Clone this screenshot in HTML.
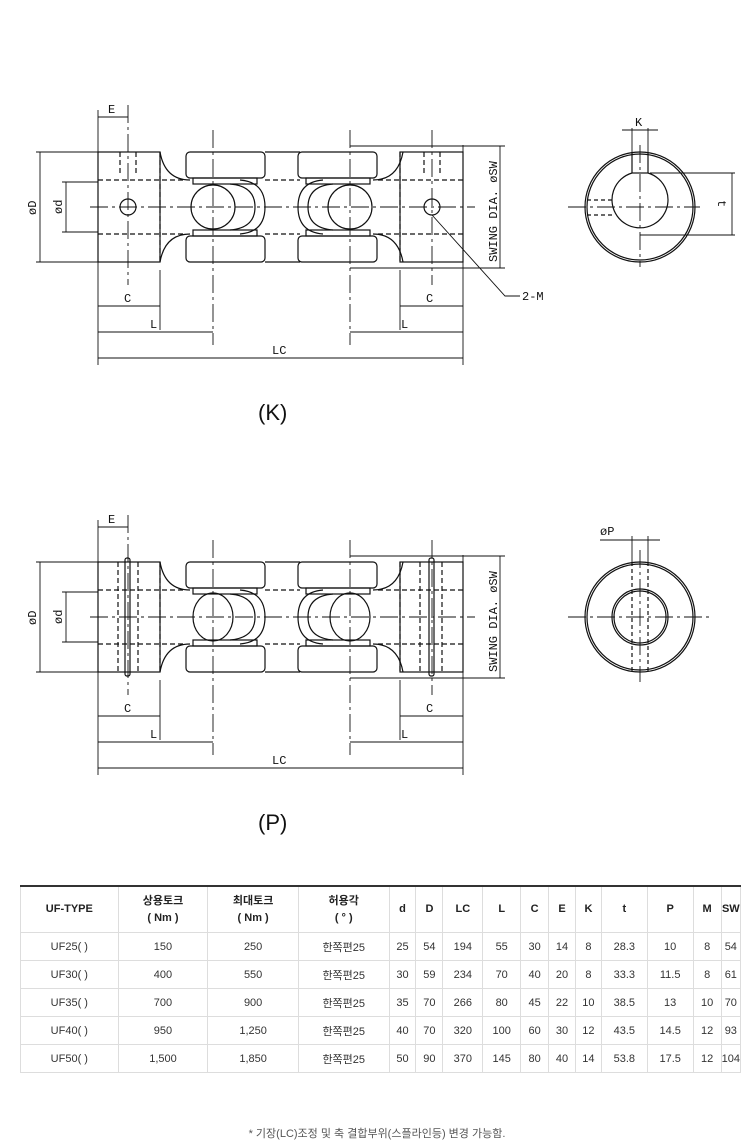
<!DOCTYPE html>
<html><head><meta charset="utf-8"><style>
html,body{margin:0;padding:0;background:#fff;}
body{width:754px;height:1148px;position:relative;overflow:hidden;font-family:"Liberation Sans","Noto Sans CJK KR",sans-serif;}
svg{position:absolute;left:0;top:0;}
table{position:absolute;left:20px;top:885px;width:721px;border-collapse:collapse;font-size:11px;color:#333;border-top:2px solid #333;}
td{border:1px solid #ddd;text-align:center;height:27px;padding:0;}
tr.h td{height:45px;font-weight:bold;color:#222;line-height:17px;}
.foot{position:absolute;left:0;width:754px;top:1125px;text-align:center;font-size:11px;color:#555;}
</style></head><body>
<svg width="754" height="880" viewBox="0 0 754 880" fill="none" stroke="#111" stroke-width="1.2" font-family="Liberation Mono, monospace" font-size="12">
<defs>
<g id="yoke">
  <path d="M160 152 Q165 180 190 180"/>
  <path d="M160 262 Q165 234 190 234"/>
  <rect x="186" y="152" width="79" height="26" rx="4"/>
  <rect x="186" y="236" width="79" height="26" rx="4"/>
  <rect x="193" y="178" width="64" height="6"/>
  <rect x="193" y="230" width="64" height="6"/>
  <path d="M230 184 Q255 186 255 207 Q255 228 230 230"/>
  <path d="M240 180 Q265 182 265 207 Q265 232 240 234"/>
</g>
</defs>

<!-- ============ K drawing ============ -->
<g>
  <rect x="98" y="152" width="62" height="110"/>
  <rect x="400" y="152" width="63" height="110"/>
  <use href="#yoke"/>
  <g transform="translate(563,0) scale(-1,1)"><use href="#yoke"/></g>
  <circle cx="213" cy="207" r="22"/>
  <circle cx="350" cy="207" r="22"/>
  <line x1="265" y1="152" x2="300" y2="152"/>
  <line x1="265" y1="262" x2="300" y2="262"/>
  <g stroke-dasharray="5,3">
    <line x1="98" y1="180" x2="186" y2="180"/><line x1="98" y1="234" x2="186" y2="234"/>
    <line x1="265" y1="180" x2="300" y2="180"/><line x1="265" y1="234" x2="300" y2="234"/>
    <line x1="378" y1="180" x2="463" y2="180"/><line x1="378" y1="234" x2="463" y2="234"/>
    <line x1="160" y1="152" x2="160" y2="262"/><line x1="400" y1="152" x2="400" y2="262"/>
    <line x1="120" y1="152" x2="120" y2="175"/><line x1="136" y1="152" x2="136" y2="175"/>
    <line x1="424" y1="152" x2="424" y2="175"/><line x1="440" y1="152" x2="440" y2="175"/>
  </g>
  <circle cx="128" cy="207" r="8"/><circle cx="432" cy="207" r="8"/>
  <g stroke-width="0.9" stroke-dasharray="18,4,3,4">
    <line x1="90" y1="207" x2="475" y2="207"/>
    <line x1="128" y1="105" x2="128" y2="285"/>
    <line x1="213" y1="130" x2="213" y2="345"/>
    <line x1="350" y1="130" x2="350" y2="345"/>
    <line x1="432" y1="130" x2="432" y2="285"/>
  </g>
  <g stroke-width="0.9">
    <line x1="98" y1="110" x2="98" y2="365"/><line x1="463" y1="145" x2="463" y2="365"/>
    <line x1="160" y1="270" x2="160" y2="330"/><line x1="400" y1="270" x2="400" y2="330"/>
    <line x1="98" y1="117" x2="128" y2="117"/>
    <line x1="36" y1="152" x2="98" y2="152"/><line x1="36" y1="262" x2="98" y2="262"/>
    <line x1="40" y1="152" x2="40" y2="262"/>
    <line x1="62" y1="182" x2="98" y2="182"/><line x1="62" y1="232" x2="98" y2="232"/>
    <line x1="66" y1="182" x2="66" y2="232"/>
    <line x1="98" y1="306" x2="160" y2="306"/><line x1="400" y1="306" x2="463" y2="306"/>
    <line x1="98" y1="332" x2="213" y2="332"/><line x1="350" y1="332" x2="463" y2="332"/>
    <line x1="98" y1="358" x2="463" y2="358"/>
    <line x1="350" y1="146" x2="505" y2="146"/><line x1="350" y1="268" x2="505" y2="268"/>
    <line x1="500" y1="146" x2="500" y2="268"/>
    <path d="M432 215 L505 296 L520 296"/>
  </g>
  <g fill="#111" stroke="none">
    <text x="108" y="113">E</text>
    <text x="124" y="302">C</text><text x="426" y="302">C</text>
    <text x="150" y="328">L</text><text x="401" y="328">L</text>
    <text x="272" y="354">LC</text>
    <text x="522" y="300">2-M</text>
    <text transform="translate(36,215) rotate(-90)">øD</text>
    <text transform="translate(62,214) rotate(-90)">ød</text>
    <text transform="translate(497,262) rotate(-90)" font-size="12">SWING DIA. øSW</text>
    <text x="258" y="420" font-family="Liberation Sans,sans-serif" font-size="22">(K)</text>
  </g>
  <circle cx="640" cy="207" r="55"/><circle cx="640" cy="207" r="53"/>
  <path d="M632 173 A28 28 0 1 0 648 173"/>
  <line x1="632" y1="173" x2="632" y2="152"/><line x1="648" y1="173" x2="648" y2="152"/>
  <line x1="632" y1="173" x2="648" y2="173"/>
  <g stroke-dasharray="4,3"><line x1="587" y1="200" x2="612" y2="200"/><line x1="587" y1="215" x2="612" y2="215"/></g>
  <g stroke-width="0.9">
    <line x1="568" y1="207" x2="700" y2="207" stroke-dasharray="18,4,3,4"/>
    <line x1="640" y1="145" x2="640" y2="267" stroke-dasharray="18,4,3,4"/>
    <line x1="622" y1="130" x2="658" y2="130"/>
    <line x1="632" y1="128" x2="632" y2="152"/><line x1="648" y1="128" x2="648" y2="152"/>
    <line x1="650" y1="173" x2="735" y2="173"/><line x1="640" y1="235" x2="735" y2="235"/>
    <line x1="732" y1="173" x2="732" y2="235"/>
  </g>
  <text x="635" y="126" fill="#111" stroke="none">K</text>
  <text transform="translate(718,200) rotate(90)" fill="#111" stroke="none">t</text>
</g>

<!-- ============ P drawing ============ -->
<g transform="translate(0,410)">
  <rect x="98" y="152" width="62" height="110"/>
  <rect x="400" y="152" width="63" height="110"/>
  <use href="#yoke"/>
  <g transform="translate(563,0) scale(-1,1)"><use href="#yoke"/></g>
  <ellipse cx="213" cy="207" rx="20" ry="24"/>
  <ellipse cx="350" cy="207" rx="20" ry="24"/>
  <line x1="265" y1="152" x2="300" y2="152"/>
  <line x1="265" y1="262" x2="300" y2="262"/>
  <rect x="125" y="148" width="5" height="118" rx="2"/>
  <rect x="429" y="148" width="5" height="118" rx="2"/>
  <g stroke-dasharray="5,3">
    <line x1="98" y1="180" x2="186" y2="180"/><line x1="98" y1="234" x2="186" y2="234"/>
    <line x1="265" y1="180" x2="300" y2="180"/><line x1="265" y1="234" x2="300" y2="234"/>
    <line x1="378" y1="180" x2="463" y2="180"/><line x1="378" y1="234" x2="463" y2="234"/>
    <line x1="160" y1="152" x2="160" y2="262"/><line x1="400" y1="152" x2="400" y2="262"/>
    <line x1="118" y1="152" x2="118" y2="262"/><line x1="138" y1="152" x2="138" y2="262"/>
    <line x1="420" y1="152" x2="420" y2="262"/><line x1="442" y1="152" x2="442" y2="262"/>
  </g>
  <g stroke-width="0.9">
    <line x1="90" y1="207" x2="475" y2="207" stroke-dasharray="18,4,3,4"/>
    <line x1="128" y1="105" x2="128" y2="285" stroke-dasharray="18,4,3,4"/>
    <line x1="213" y1="130" x2="213" y2="345" stroke-dasharray="18,4,3,4"/>
    <line x1="350" y1="130" x2="350" y2="345" stroke-dasharray="18,4,3,4"/>
    <line x1="432" y1="130" x2="432" y2="285" stroke-dasharray="18,4,3,4"/>
    <line x1="98" y1="110" x2="98" y2="365"/><line x1="463" y1="145" x2="463" y2="365"/>
    <line x1="160" y1="270" x2="160" y2="330"/><line x1="400" y1="270" x2="400" y2="330"/>
    <line x1="98" y1="117" x2="128" y2="117"/>
    <line x1="36" y1="152" x2="98" y2="152"/><line x1="36" y1="262" x2="98" y2="262"/>
    <line x1="40" y1="152" x2="40" y2="262"/>
    <line x1="62" y1="182" x2="98" y2="182"/><line x1="62" y1="232" x2="98" y2="232"/>
    <line x1="66" y1="182" x2="66" y2="232"/>
    <line x1="98" y1="306" x2="160" y2="306"/><line x1="400" y1="306" x2="463" y2="306"/>
    <line x1="98" y1="332" x2="213" y2="332"/><line x1="350" y1="332" x2="463" y2="332"/>
    <line x1="98" y1="358" x2="463" y2="358"/>
    <line x1="350" y1="146" x2="505" y2="146"/><line x1="350" y1="268" x2="505" y2="268"/>
    <line x1="500" y1="146" x2="500" y2="268"/>
  </g>
  <g fill="#111" stroke="none">
    <text x="108" y="113">E</text>
    <text x="124" y="302">C</text><text x="426" y="302">C</text>
    <text x="150" y="328">L</text><text x="401" y="328">L</text>
    <text x="272" y="354">LC</text>
    <text transform="translate(36,215) rotate(-90)">øD</text>
    <text transform="translate(62,214) rotate(-90)">ød</text>
    <text transform="translate(497,262) rotate(-90)">SWING DIA. øSW</text>
    <text x="258" y="420" font-family="Liberation Sans,sans-serif" font-size="22">(P)</text>
  </g>
  <circle cx="640" cy="207" r="55"/><circle cx="640" cy="207" r="53"/>
  <circle cx="640" cy="207" r="28"/><circle cx="640" cy="207" r="26"/>
  <g stroke-dasharray="4,3"><line x1="632" y1="152" x2="632" y2="262"/><line x1="648" y1="152" x2="648" y2="262"/></g>
  <g stroke-width="0.9">
    <line x1="568" y1="207" x2="712" y2="207" stroke-dasharray="18,4,3,4"/>
    <line x1="640" y1="140" x2="640" y2="272" stroke-dasharray="18,4,3,4"/>
    <line x1="600" y1="130" x2="660" y2="130"/>
    <line x1="632" y1="126" x2="632" y2="152"/><line x1="648" y1="126" x2="648" y2="152"/>
  </g>
  <text x="600" y="125" fill="#111" stroke="none">øP</text>
</g>
</svg>

<table>
<tr class="h"><td style="width:97px">UF-TYPE</td><td style="width:89px">상용토크<br>( Nm )</td><td style="width:90px">최대토크<br>( Nm )</td><td style="width:90px">허용각<br>( ° )</td><td style="width:26px">d</td><td style="width:26px">D</td><td style="width:39px">LC</td><td style="width:37px">L</td><td style="width:27px">C</td><td style="width:26px">E</td><td style="width:25px">K</td><td style="width:45px">t</td><td style="width:45px">P</td><td style="width:27px">M</td><td>SW</td></tr>
<tr><td>UF25( )</td><td>150</td><td>250</td><td>한쪽편25</td><td>25</td><td>54</td><td>194</td><td>55</td><td>30</td><td>14</td><td>8</td><td>28.3</td><td>10</td><td>8</td><td>54</td></tr>
<tr><td>UF30( )</td><td>400</td><td>550</td><td>한쪽편25</td><td>30</td><td>59</td><td>234</td><td>70</td><td>40</td><td>20</td><td>8</td><td>33.3</td><td>11.5</td><td>8</td><td>61</td></tr>
<tr><td>UF35( )</td><td>700</td><td>900</td><td>한쪽편25</td><td>35</td><td>70</td><td>266</td><td>80</td><td>45</td><td>22</td><td>10</td><td>38.5</td><td>13</td><td>10</td><td>70</td></tr>
<tr><td>UF40( )</td><td>950</td><td>1,250</td><td>한쪽편25</td><td>40</td><td>70</td><td>320</td><td>100</td><td>60</td><td>30</td><td>12</td><td>43.5</td><td>14.5</td><td>12</td><td>93</td></tr>
<tr><td>UF50( )</td><td>1,500</td><td>1,850</td><td>한쪽편25</td><td>50</td><td>90</td><td>370</td><td>145</td><td>80</td><td>40</td><td>14</td><td>53.8</td><td>17.5</td><td>12</td><td>104</td></tr>
</table>
<div class="foot">* 기장(LC)조정 및 축 결합부위(스플라인등) 변경 가능함.</div>
</body></html>
